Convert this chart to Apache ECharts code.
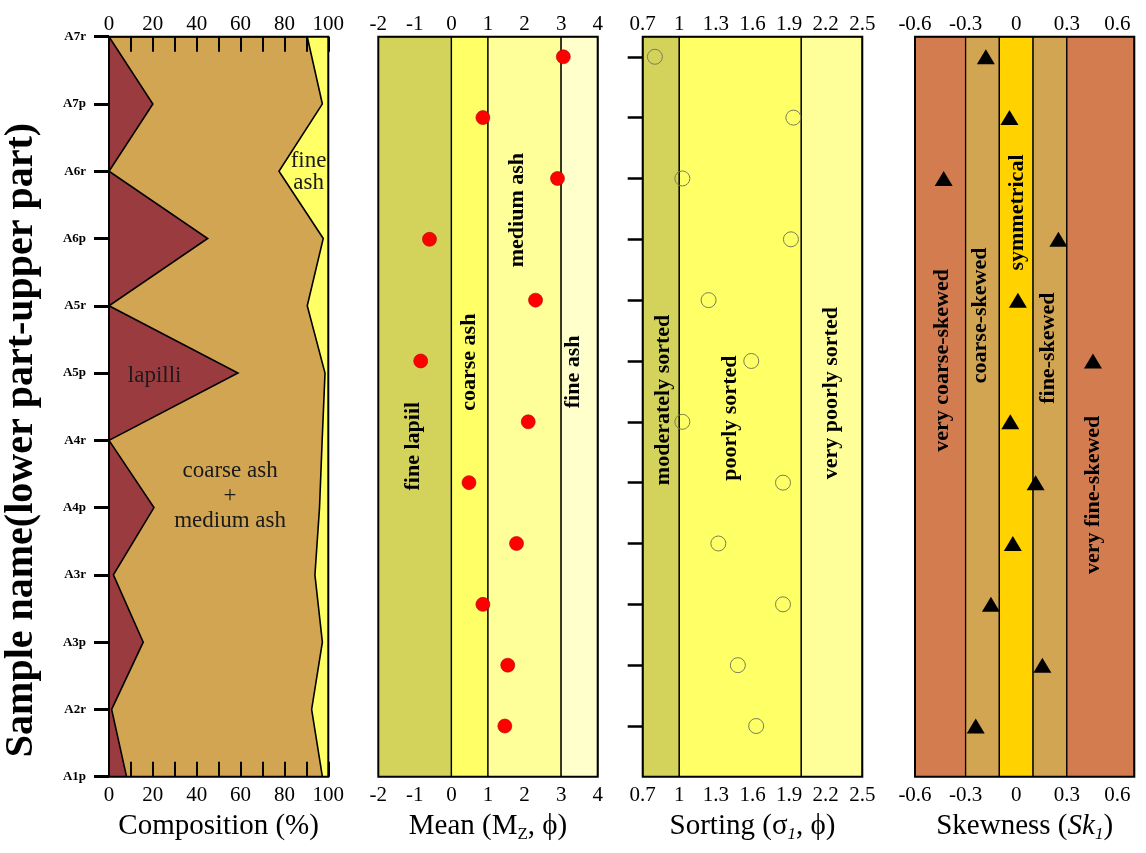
<!DOCTYPE html>
<html><head><meta charset="utf-8">
<script src="https://cdn.jsdelivr.net/npm/echarts@6/dist/echarts.min.js"></script>
<style>html,body{margin:0;padding:0;background:#fff}#c{width:1146px;height:853px}</style>
</head><body><div id="c"></div>
<script>
// ---------- DATA (bottom row first) ----------
const samples = ['A1p','A2r','A3p','A3r','A4p','A4r','A5p','A5r','A6p','A6r','A7p','A7r'];
const lapilli         = [8, 1.2, 15.6, 2, 20.5, 0, 58.8, 0, 45, 0, 20, 0];
const coarseMediumAsh = [89.3, 91.2, 81.7, 91.9, 75.5, 97.2, 39.7, 90.4, 52.7, 77.5, 77.3, 90.4];
const fineAsh         = [2.7, 7.6, 2.7, 6.1, 4.0, 2.8, 1.5, 9.6, 2.3, 22.5, 2.7, 9.6];
const compTicks = [0, 20, 40, 60, 80, 100];

const meanValues     = [1.46, 1.54, 0.86, 1.78, 0.48, 2.10, -0.84, 2.30, -0.60, 2.90, 0.86, 3.06];
const sortingValues  = [1.63, 1.48, 1.85, 1.32, 1.85, 1.025, 1.59, 1.24, 1.915, 1.025, 1.935, 0.80];
const skewnessValues = [-0.24, 0.155, -0.15, -0.02, 0.115, -0.035, 0.455, 0.01, 0.25, -0.43, -0.04, -0.18];

const meanTicks    = [-2, -1, 0, 1, 2, 3, 4];
const sortingTicks = [0.7, 1, 1.3, 1.6, 1.9, 2.2, 2.5];
const skewTicks    = [-0.6, -0.3, 0, 0.3, 0.6];

const meanBounds    = [-2, 0, 1, 3, 4];
const meanClasses   = ['fine lapiil', 'coarse ash', 'medium ash', 'fine ash'];
const sortingBounds = [0.7, 1, 2, 2.5];
const sortingClasses= ['moderately sorted', 'poorly sorted', 'very poorly sorted'];
const skewBounds    = [-0.6, -0.3, -0.1, 0.1, 0.3, 0.7];
const skewClasses   = ['very coarse-skewed', 'coarse-skewed', 'symmetrical', 'fine-skewed', 'very fine-skewed'];

const yTitle = 'Sample name(lower part-upper part)';

// ---------- STYLE ----------
const FONT = '"Liberation Serif", "Times New Roman", serif';
const compColors = ['#9A3C3F', '#D2A553', '#FFFF66'];
const meanColors = ['#D3D35B', '#FFFF66', '#FFFF99', '#FFFFCC'];
const sortColors = ['#D3D35B', '#FFFF66', '#FFFF99'];
const skewColors = ['#D27C50', '#D2A553', '#FFD200', '#D2A553', '#D27C50'];
const ROW_MIN = -0.833, ROW_MAX = 11.33;
const rows = samples.map((_, i) => i);

const grids = [
  {left: 109, width: 219.3},
  {left: 378.3, width: 219.4},
  {left: 642.7, width: 219.6},
  {left: 915, width: 219.3}
].map(g => ({left: g.left, width: g.width, top: 36.7, height: 740, show: true,
  borderColor: '#000', borderWidth: 2, backgroundColor: 'transparent', z: 10,
  containLabel: false, outerBoundsMode: 'none'}));

const lblStyle = {color: '#000', fontFamily: FONT, fontSize: 21};
const fmt = v => String(+(+v).toFixed(2));
const rich = {
  t: {fontSize: 29, fontFamily: FONT, color: '#000', lineHeight: 32},
  ti: {fontSize: 29, fontFamily: FONT, color: '#000', lineHeight: 32, fontStyle: 'italic'},
  s: {fontSize: 17, fontFamily: FONT, color: '#000', lineHeight: 14, verticalAlign: 'bottom'},
  si: {fontSize: 17, fontFamily: FONT, color: '#000', lineHeight: 14, verticalAlign: 'bottom', fontStyle: 'italic'}
};

function bottomTop(gridIndex, min, max, ticks, name) {
  const base = {gridIndex, type: 'value', min, max, splitLine: {show: false},
    axisLine: {show: false}, axisTick: {show: false}};
  return [
    Object.assign({}, base, {position: 'bottom',
      axisLabel: Object.assign({margin: 8, customValues: ticks, formatter: fmt}, lblStyle),
      name, nameLocation: 'middle', nameGap: 34, nameTextStyle: {rich}}),
    Object.assign({}, base, {position: 'top',
      axisLabel: Object.assign({margin: 2, customValues: ticks, formatter: fmt}, lblStyle)})
  ];
}

const compTickCommon = {show: true, inside: true, length: 15, lineStyle: {color: '#000', width: 2}};
const compMinor = {show: true, splitNumber: 2, length: 15, lineStyle: {color: '#000', width: 2}};
const xAxes = [
  {gridIndex: 0, type: 'value', min: compTicks[0], max: compTicks[compTicks.length - 1],
   interval: compTicks[1] - compTicks[0], position: 'bottom', z: 10,
   axisLine: {show: false}, splitLine: {show: false},
   axisTick: compTickCommon, minorTick: compMinor,
   axisLabel: Object.assign({margin: 8}, lblStyle),
   name: '{t|Composition (%)}', nameLocation: 'middle', nameGap: 34, nameTextStyle: {rich}},
  {gridIndex: 0, type: 'value', min: compTicks[0], max: compTicks[compTicks.length - 1],
   interval: compTicks[1] - compTicks[0], position: 'top', z: 10,
   axisLine: {show: false}, splitLine: {show: false},
   axisTick: compTickCommon, minorTick: compMinor,
   axisLabel: Object.assign({margin: 2}, lblStyle)},
  ...bottomTop(1, meanBounds[0], meanBounds[meanBounds.length - 1], meanTicks, '{t|Mean (M}{s|Z}{t|, ϕ)}'),
  ...bottomTop(2, sortingBounds[0], sortingBounds[sortingBounds.length - 1], sortingTicks, '{t|Sorting (σ}{si|1}{t|, ϕ)}'),
  ...bottomTop(3, skewBounds[0], skewBounds[skewBounds.length - 1], skewTicks, '{t|Skewness (}{ti|Sk}{si|1}{t|)}')
];

const yAxes = [
  {gridIndex: 0, type: 'value', min: 0, max: samples.length - 1, interval: 1, z: 10,
   axisLine: {show: false}, splitLine: {show: false},
   axisTick: {show: true, length: 15, lineStyle: {color: '#000', width: 3}},
   axisLabel: {formatter: v => samples[v], margin: 23, fontSize: 13, fontWeight: 'bold', fontFamily: FONT, color: '#000'}}
];
for (let g = 1; g <= 3; g++) {
  yAxes.push({gridIndex: g, type: 'value', min: ROW_MIN, max: ROW_MAX,
    axisLine: {show: false}, splitLine: {show: false}, axisLabel: {show: false},
    axisTick: {show: true, length: 15, customValues: rows, lineStyle: {color: '#000', width: 2.5}}});
}

// ---------- SERIES ----------
const series = [];

// composition polygons
series.push({
  type: 'custom', xAxisIndex: 0, yAxisIndex: 0, clip: true, z: 2, silent: true,
  data: [[0, 0]],
  renderItem: function (params, api) {
    const n = samples.length;
    const P = (x, y) => api.coord([x, y]);
    const cum = lapilli.map((v, i) => v + coarseMediumAsh[i]);
    const lap = [P(0, 0)];
    for (let i = 0; i < n; i++) lap.push(P(lapilli[i], i));
    lap.push(P(0, n - 1));
    const coarse = [];
    for (let i = 0; i < n; i++) coarse.push(P(lapilli[i], i));
    for (let i = n - 1; i >= 0; i--) coarse.push(P(cum[i], i));
    const fine = [];
    for (let i = 0; i < n; i++) fine.push(P(cum[i], i));
    for (let i = n - 1; i >= 0; i--) fine.push(P(cum[i] + fineAsh[i], i));
    return {type: 'group', children: [
      {type: 'polygon', shape: {points: lap}, style: {fill: compColors[0]}},
      {type: 'polygon', shape: {points: fine}, style: {fill: compColors[2]}},
      {type: 'polygon', shape: {points: coarse}, style: {fill: compColors[1], stroke: '#000', lineWidth: 1.6}}
    ]};
  }
});

// composition labels
const compLabels = [
  {pos: [20.8, 5.96], text: 'lapilli', lh: 25},
  {pos: [55.2, 4.17], text: 'coarse ash\n+\nmedium ash', lh: 25},
  {pos: [91, 8.99], text: 'fine\nash', lh: 22}
];
series.push({
  type: 'custom', xAxisIndex: 0, yAxisIndex: 0, z: 4, silent: true,
  data: compLabels.map((l, i) => [l.pos[0], l.pos[1], i]),
  renderItem: function (params, api) {
    const p = api.coord([api.value(0), api.value(1)]);
    const l = compLabels[params.dataIndex];
    return {type: 'text', x: p[0], y: p[1], style: {text: l.text, fontSize: 23, fontFamily: FONT,
      fill: '#1a1a1a', align: 'center', verticalAlign: 'middle', lineHeight: l.lh}};
  }
});

function bandSeries(xi, yi, bounds, colors) {
  return {
    type: 'custom', xAxisIndex: xi, yAxisIndex: yi, clip: true, z: 1, silent: true,
    data: colors.map((c, i) => [bounds[i], bounds[i + 1]]),
    encode: {x: [0, 1]},
    renderItem: function (params, api) {
      const a = api.coord([api.value(0), ROW_MAX]);
      const b = api.coord([api.value(1), ROW_MIN]);
      return {type: 'rect', shape: {x: a[0], y: a[1], width: b[0] - a[0], height: b[1] - a[1]},
        style: {fill: colors[params.dataIndex], stroke: '#000', lineWidth: 1.3}};
    }
  };
}
function classLabelSeries(xi, yi, names, pos) {
  return {
    type: 'custom', xAxisIndex: xi, yAxisIndex: yi, z: 3, silent: true,
    data: pos.map((p, i) => [p[0], p[1], i]),
    renderItem: function (params, api) {
      const p = api.coord([api.value(0), api.value(1)]);
      return {type: 'text', x: p[0], y: p[1], rotation: Math.PI / 2,
        style: {text: names[params.dataIndex], fontSize: 22, fontWeight: 'bold', fontFamily: FONT,
          fill: '#000', align: 'center', verticalAlign: 'middle'}};
    }
  };
}

series.push(bandSeries(2, 1, meanBounds, meanColors));
series.push(classLabelSeries(2, 1, meanClasses, [[-1.05, 4.6], [0.5, 5.98], [1.79, 8.48], [3.33, 5.82]]));
series.push({type: 'scatter', xAxisIndex: 2, yAxisIndex: 1, z: 5, silent: true,
  data: meanValues.map((v, i) => [v, rows[i]]), symbol: 'circle', symbolSize: 14,
  itemStyle: {color: '#FF0000', borderColor: '#B40000', borderWidth: 0.6, opacity: 1}});

series.push(bandSeries(4, 2, sortingBounds, sortColors));
series.push(classLabelSeries(4, 2, sortingClasses, [[0.87, 5.36], [1.416, 5.06], [2.25, 5.47]]));
series.push({type: 'scatter', xAxisIndex: 4, yAxisIndex: 2, z: 5, silent: true,
  data: sortingValues.map((v, i) => [v, rows[i]]), symbol: 'circle', symbolSize: 15,
  itemStyle: {color: 'rgba(0,0,0,0)', borderColor: '#7d7d55', borderWidth: 1, opacity: 1}});

series.push(bandSeries(6, 3, skewBounds, skewColors));
series.push(classLabelSeries(6, 3, skewClasses, [[-0.44, 6.01], [-0.212, 6.75], [0.005, 8.44], [0.193, 6.21], [0.459, 3.8]]));
series.push({type: 'scatter', xAxisIndex: 6, yAxisIndex: 3, z: 5, silent: true,
  data: skewnessValues.map((v, i) => [v, rows[i]]), symbol: 'triangle', symbolSize: [18, 15],
  itemStyle: {color: '#000', opacity: 1}});

const chart = echarts.init(document.getElementById('c'), null, {renderer: 'canvas'});
chart.setOption({
  animation: false,
  backgroundColor: '#fff',
  grid: grids,
  xAxis: xAxes,
  yAxis: yAxes,
  graphic: [{type: 'text', x: 22, y: 440, rotation: Math.PI / 2, silent: true,
    style: {text: yTitle, fontSize: 40, fontWeight: 'bold', fontFamily: FONT, fill: '#000',
      align: 'center', verticalAlign: 'middle'}}],
  series
});
</script>
</body></html>
